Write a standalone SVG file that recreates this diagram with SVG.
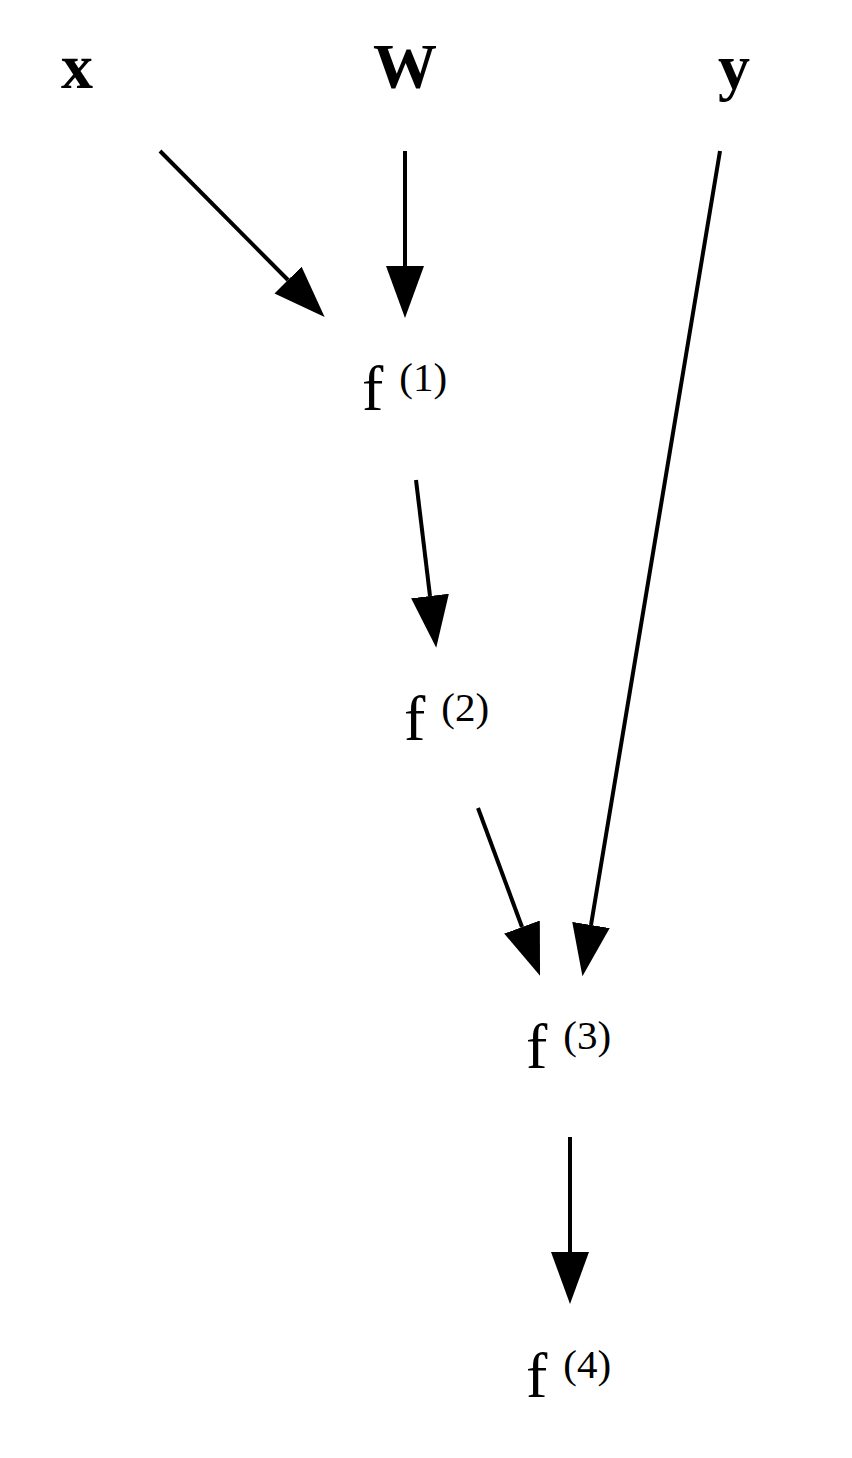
<svg xmlns="http://www.w3.org/2000/svg" width="852" height="1458" viewBox="0 0 852 1458">
<style>
.in{font-family:"Liberation Serif","Times New Roman",serif;font-weight:bold;font-size:64px;fill:#000;text-anchor:middle}
.f{font-family:"Liberation Serif","Times New Roman",serif;font-size:64px;fill:#000}
.sup{font-size:41px}
.e{stroke:#000;stroke-width:4;fill:none;marker-end:url(#ah)}
</style>
<defs>
<marker id="ah" markerUnits="userSpaceOnUse" markerWidth="54" markerHeight="42" viewBox="0 -21 54 42" refX="0" refY="0" orient="auto">
<path d="M0,-19 L52,0 L0,19 Z" fill="#000"/>
</marker>
</defs>
<rect width="852" height="1458" fill="#fff"/>
<g id="connectors">
<line class="e" x1="160" y1="151" x2="288" y2="280"/>
<line class="e" x1="405" y1="151" x2="405" y2="266"/>
<line class="e" x1="416" y1="480" x2="430" y2="596"/>
<line class="e" x1="478" y1="808" x2="522" y2="927"/>
<line class="e" x1="720" y1="151" x2="591" y2="925"/>
<line class="e" x1="570" y1="1137" x2="570" y2="1252"/>
</g>
<g id="node-x"><text class="in" x="77" y="88">x</text></g>
<g id="node-W"><text class="in" x="405" y="88">W</text></g>
<g id="node-y"><text class="in" x="734" y="88">y</text></g>
<g id="node-f1"><text class="f" x="362" y="410">f<tspan class="sup" dx="16" dy="-19">(1)</tspan></text></g>
<g id="node-f2"><text class="f" x="404" y="740">f<tspan class="sup" dx="16" dy="-19">(2)</tspan></text></g>
<g id="node-f3"><text class="f" x="526" y="1068">f<tspan class="sup" dx="16" dy="-19">(3)</tspan></text></g>
<g id="node-f4"><text class="f" x="526" y="1397">f<tspan class="sup" dx="16" dy="-19">(4)</tspan></text></g>
</svg>
